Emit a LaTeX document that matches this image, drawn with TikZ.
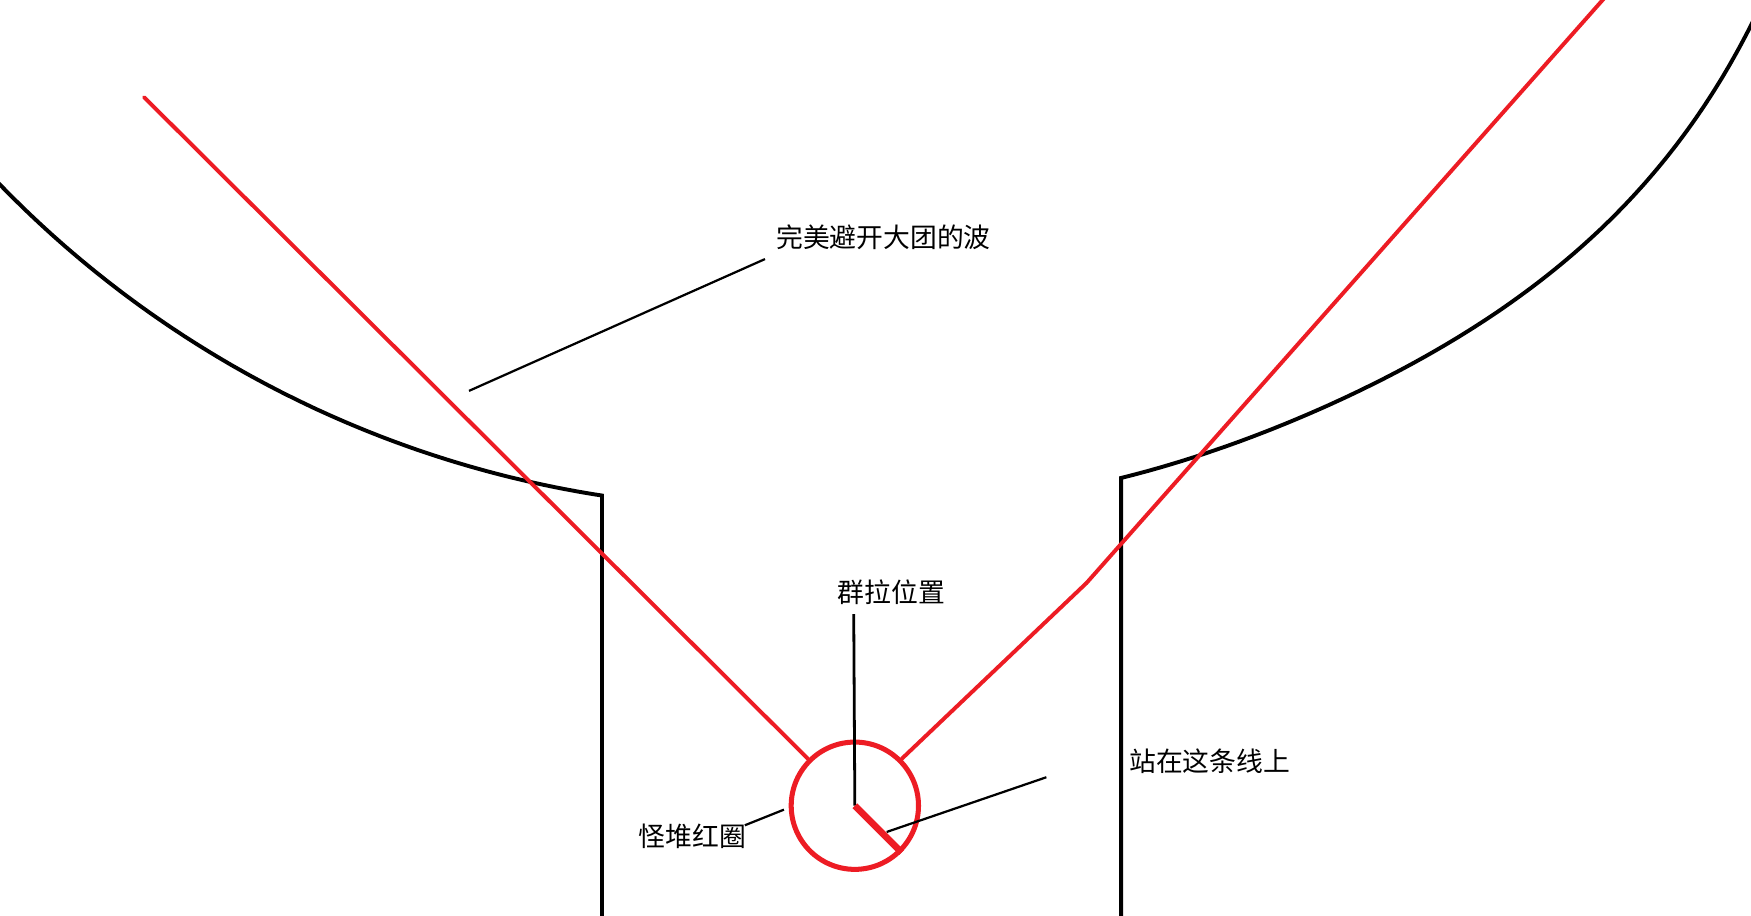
\documentclass[tikz,border=0pt]{standalone}
\usepackage{fontspec}
\newfontfamily\cjk{Noto Sans CJK SC}
\definecolor{pred}{HTML}{ED1C24}
\begin{document}
\begin{tikzpicture}[x=1pt,y=-1pt,
  wall/.style={line width=3.5pt, line join=miter},
  ray/.style={draw=pred, line width=3.5pt, line cap=round},
  lead/.style={line width=2pt},
  lbl/.style={font=\cjk\fontsize{24}{28}\selectfont, inner sep=0pt, anchor=west}]
\useasboundingbox[fill=white] (0,0) rectangle (1568,820);

% left wave boundary (circular arc) and wall
\draw[wall] plot[domain=136.6:98.79, samples=90] ({685+955*cos(\x)},{-500+955*sin(\x)}) -- (539.1,825);

% right wave boundary and wall
\draw[wall] (1004,825) -- plot[domain=78.74:27.8, samples=120] ({842.2+(830-6*sin((\x-53.5)*360/55))*cos(\x)},{-384.5+(830-6*sin((\x-53.5)*360/55))*sin(\x)});

% red circle
\node[draw=pred, line width=4.5pt, circle, minimum size=114pt, inner sep=0pt] (ring) at (765.5,721.5) {};

% red rays
\coordinate (wl) at (129,87);
\coordinate (kink) at (973,522);
\coordinate (wr) at (1436,-1);
\path[ray] (wl) -- (ring.135);
\path[ray] (ring.45) -- (kink) -- (wr);

% labels
\node[lbl] (t1) at (695,212) {完美避开大团的波};
\node[lbl] (t2) at (750,530) {群拉位置};
\node[lbl] (t3) at (1011,682) {站在这条线上};
\node[lbl] (t4) at (572,749) {怪堆红圈};

% pull position line and stub
\coordinate (ptop) at (764.5,550);
\draw[line width=2.5pt] (ptop) -- (ring.center);
\draw[pred, line width=6pt] (ring.center) -- (ring.-45);

% leader lines
\coordinate (l1a) at (685,232);
\coordinate (l1b) at (420,350);
\draw[lead] (l1a) -- (l1b);
\coordinate (l3a) at (937,696);
\coordinate (l3b) at (794,745);
\draw[lead] (l3a) -- (l3b);
\coordinate (l4a) at (667,739);
\coordinate (l4b) at (702,725);
\draw[lead] (l4a) -- (l4b);
\end{tikzpicture}
\end{document}
